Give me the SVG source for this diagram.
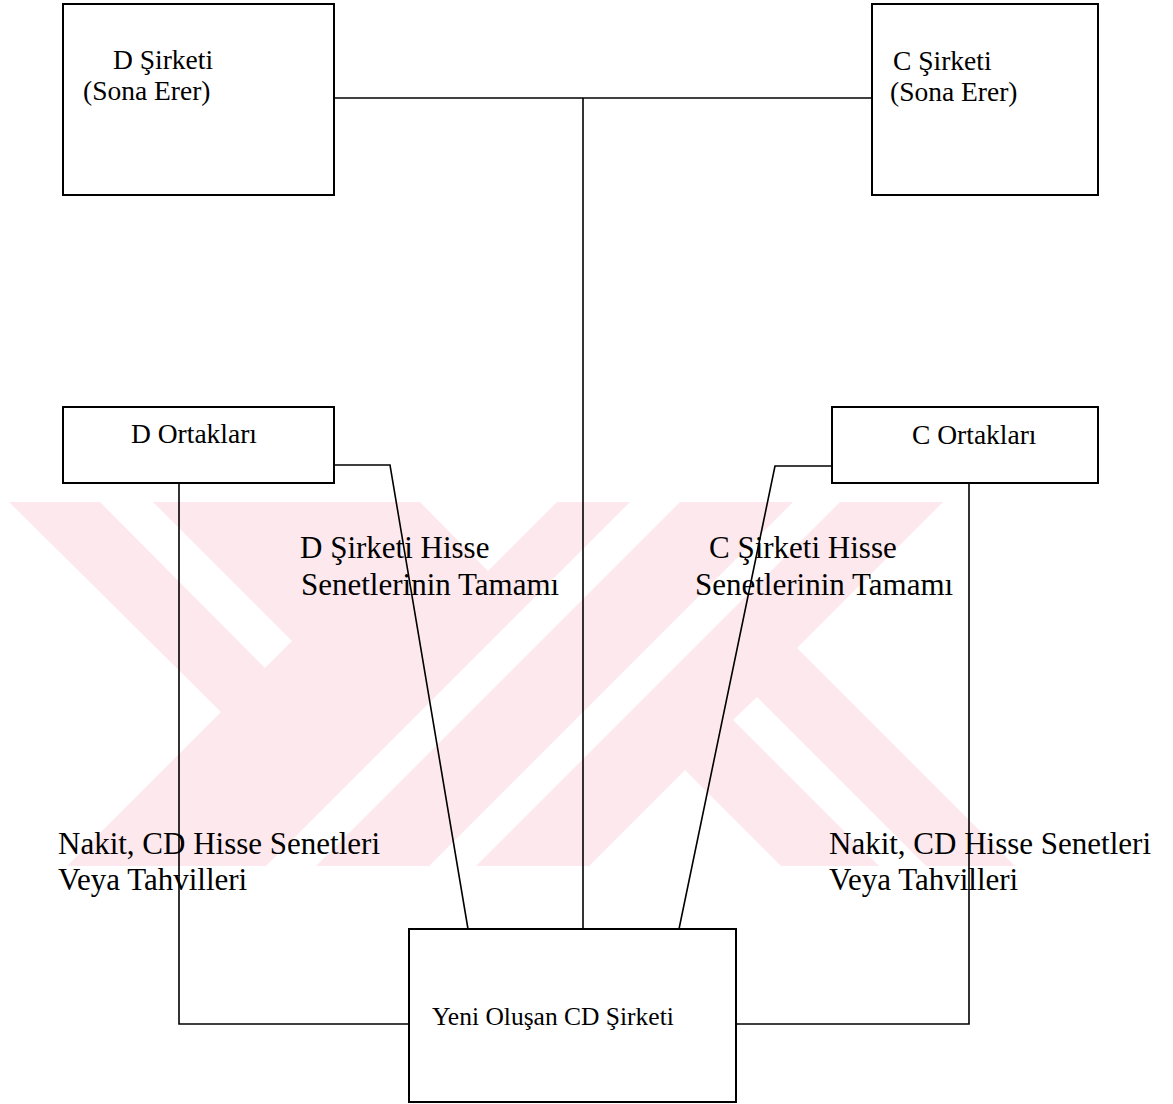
<svg xmlns="http://www.w3.org/2000/svg" width="1173" height="1104" viewBox="0 0 1173 1104">
<style>
  .wm { fill: #fde8ed; }
  .wg { fill: #ffffff; }
  .box { fill: #ffffff; stroke: #000; stroke-width: 2; }
  .ln { fill: none; stroke: #000; stroke-width: 1.6; }
  text { font-family: "Liberation Serif", "Times New Roman", serif; fill: #000; }
  .bt { font-size: 27.5px; }
  .yt { font-size: 25.5px; }
  .lt { font-size: 31px; }
</style>
<g id="watermark">
  <polygon class="wm" points="9,502 943,502 797,648 1015,866 67,866 221,712"/>
  <polygon class="wg" points="100,502 153,502 292,641 265,668"/>
  <polygon class="wg" points="420,502 557,502 488,571"/>
  <polygon class="wg" points="630,502 680,502 316,866 266,866"/>
  <polygon class="wg" points="793,502 840,502 476,866 429,866"/>
  <polygon class="wg" points="733,720 757,697 926,866 879,866"/>
  <polygon class="wg" points="685,770 781,866 589,866"/>
</g>
<g id="connectors">
  <polyline class="ln" points="334,98 872,98"/>
  <polyline class="ln" points="583,98 583,929"/>
  <polyline class="ln" points="334,465 390,465 468,929"/>
  <polyline class="ln" points="832,466 775,466 679,929"/>
  <polyline class="ln" points="179,483 179,1024 409,1024"/>
  <polyline class="ln" points="969,483 969,1024 736,1024"/>
</g>
<g id="node-d-sirketi">
  <rect class="box" x="63" y="4" width="271" height="191"/>
  <text class="bt" x="113" y="69">D Şirketi</text>
  <text class="bt" x="83" y="100">(Sona Erer)</text>
</g>
<g id="node-c-sirketi">
  <rect class="box" x="872" y="4" width="226" height="191"/>
  <text class="bt" x="893" y="70">C Şirketi</text>
  <text class="bt" x="890" y="101">(Sona Erer)</text>
</g>
<g id="node-d-ortaklari">
  <rect class="box" x="63" y="407" width="271" height="76"/>
  <text class="bt" x="131" y="443">D Ortakları</text>
</g>
<g id="node-c-ortaklari">
  <rect class="box" x="832" y="407" width="266" height="76"/>
  <text class="bt" x="912" y="444">C Ortakları</text>
</g>
<g id="node-cd-sirketi">
  <rect class="box" x="409" y="929" width="327" height="173"/>
  <text class="yt" x="432" y="1025">Yeni Oluşan CD Şirketi</text>
</g>
<g id="label-d-hisse">
  <text class="lt" x="300" y="558">D Şirketi Hisse</text>
  <text class="lt" x="301" y="595">Senetlerinin Tamamı</text>
</g>
<g id="label-c-hisse">
  <text class="lt" x="709" y="558">C Şirketi Hisse</text>
  <text class="lt" x="695" y="595">Senetlerinin Tamamı</text>
</g>
<g id="label-d-nakit">
  <text class="lt" x="58" y="854">Nakit, CD Hisse Senetleri</text>
  <text class="lt" x="58" y="890">Veya Tahvilleri</text>
</g>
<g id="label-c-nakit">
  <text class="lt" x="829" y="854">Nakit, CD Hisse Senetleri</text>
  <text class="lt" x="829" y="890">Veya Tahvilleri</text>
</g>
</svg>
